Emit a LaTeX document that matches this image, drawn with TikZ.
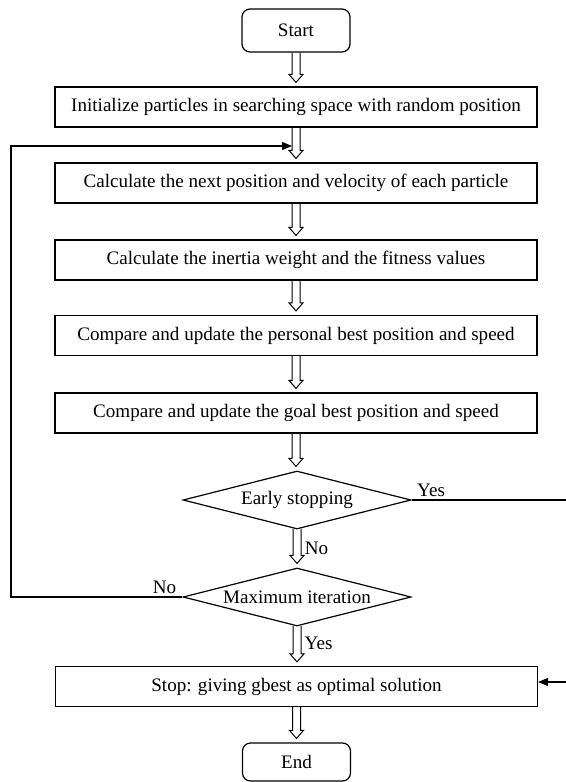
\documentclass[tikz,border=0pt]{standalone}
\usepackage{fontspec}
\setmainfont{Liberation Serif}
\usetikzlibrary{shapes.geometric,arrows.meta,calc}
\newcommand{\hollowarrow}[2]{%
  \draw[hollow] let \p1=(#1), \p2=(#2) in
    (\x1-3pt,\y1) -- (\x1-3pt,\y2+6pt) -- (\x1-5.25pt,\y2+6pt) -- (\x1,\y2)
    -- (\x1+5.25pt,\y2+6pt) -- (\x1+3pt,\y2+6pt) -- (\x1+3pt,\y1);}
\begin{document}
\begin{tikzpicture}[x=0.75pt,y=-0.75pt,
  every node/.style={font=\fontsize{14.3}{17}\selectfont},
  procbox/.style={draw, line width=0.9pt, minimum width=361.5pt, minimum height=30pt, inner sep=0pt},
  termbox/.style={draw, rounded corners=6pt, line width=0.9pt, minimum width=81pt, minimum height=32.25pt, inner sep=0pt},
  decision/.style={draw, diamond, aspect=3.9, line width=0.9pt, minimum width=171pt, minimum height=43.5pt, inner sep=0pt},
  hollow/.style={draw, line width=0.75pt},
  flow/.style={line width=0.9pt},
  tip/.style={-{Triangle[length=7.5pt,width=6pt]}},
  lbl/.style={inner sep=2pt}
]
\useasboundingbox (0,0) rectangle (565,782);

\node[termbox] (start) at (296,30.5) {Start};
\node[procbox] (init) at (296,107) {Initialize particles in searching space with random position};
\node[procbox] (next) at (296,183) {Calculate the next position and velocity of each particle};
\node[procbox] (inertia) at (296,260) {Calculate the inertia weight and the fitness values};
\node[procbox] (pbest) at (296,335.5) {Compare and update the personal best position and speed};
\node[procbox] (gbest) at (296,413) {Compare and update the goal best position and speed};
\node[decision] (early) at (297,500) {Early stopping};
\node[decision] (maxit) at (297,597) {Maximum iteration};
\node[procbox] (stop) at (296.5,686.5) {Stop: giving gbest as optimal solution};
\node[termbox, minimum height=28.5pt] (end) at (296.5,762) {End};

\hollowarrow{start.south}{$(init.north)+(0,-4)$}
\hollowarrow{init.south}{$(next.north)+(0,-4)$}
\hollowarrow{next.south}{$(inertia.north)+(0,-4)$}
\hollowarrow{inertia.south}{$(pbest.north)+(0,-4)$}
\hollowarrow{pbest.south}{$(gbest.north)+(0,-4)$}
\hollowarrow{gbest.south}{$(early.north)+(0,-4)$}
\hollowarrow{$(early.south)+(0,-1)$}{$(maxit.north)+(0,-4)$}
\hollowarrow{$(maxit.south)+(0,-1)$}{$(stop.north)+(0,-4)$}
\hollowarrow{stop.south}{$(end.north)+(0,-4)$}

% feedback loop
\coordinate (lt) at (11,146);
\coordinate (fbtip) at (292,146);
\draw[flow,tip] (maxit.west) -| (lt) -- (fbtip);

% early stopping yes path
\coordinate (rt) at (567,500);
\coordinate (rb) at (567,682);
\draw[flow,tip] (early.east) -- (rt) -- (rb) -- (stop.east |- rb);

% labels
\node[lbl, anchor=south west] (yes1) at ([xshift=2pt]early.east) {Yes};
\node[lbl, anchor=west] (no1) at ($(early.south)!0.5!(maxit.north)+(5,0)$) {No};
\node[lbl, anchor=south east] (no2) at ([xshift=-2.5pt]maxit.west) {No};
\node[lbl, anchor=west] (yes2) at ($(maxit.south)!0.5!(stop.north)+(5,-3)$) {Yes};
\end{tikzpicture}
\end{document}
